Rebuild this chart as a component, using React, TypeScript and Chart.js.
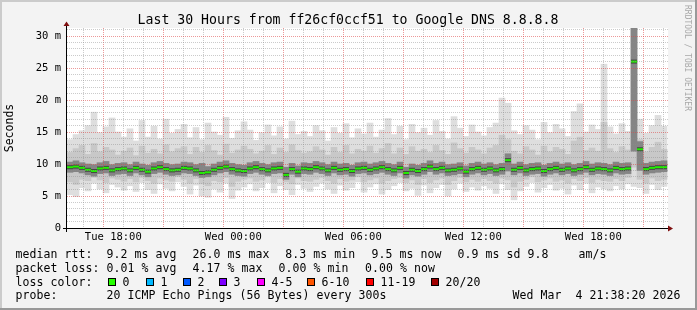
import React, { useEffect, useRef } from 'react';
import { Chart, registerables } from 'chart.js';

Chart.register(...registerables);

const MONO = '"DejaVu Sans Mono", monospace';

// time axis in hours since Tue 00:00
const START_HOUR = 15.685;
const STEP_HOURS = 0.3;
const END_HOUR = 45.735;
const Y_MAX = 31.25;

const xTickHours = [18, 24, 30, 36, 42];
const xTickLabels = ['Tue 18:00', 'Wed 00:00', 'Wed 06:00', 'Wed 12:00', 'Wed 18:00'];
const yTickValues = [0, 5, 10, 15, 20, 25, 30];
const yTickLabels = ['0', '5 m', '10 m', '15 m', '20 m', '25 m', '30 m'];

// rtt in ms, one value per 18 minute bucket
const maxRtt = [
  13.8, 14.6, 15.2, 16.0, 18.1, 14.9, 15.8, 17.2, 15.0, 14.2,
  15.5, 13.6, 16.8, 14.2, 15.9, 13.9, 17.0, 14.8, 15.4, 16.2,
  14.1, 15.7, 13.8, 16.4, 15.0, 14.5, 17.3, 14.0, 15.2, 16.6,
  15.3, 13.7, 14.9, 16.1, 14.4, 15.8, 13.9, 16.7, 14.6, 15.1,
  14.3, 16.0, 15.2, 13.6, 15.7, 14.8, 16.3, 14.1, 15.5, 14.7,
  16.4, 14.2, 15.3, 17.1, 14.6, 15.9, 13.8, 16.2, 14.9, 15.6,
  14.5, 16.8, 15.1, 13.9, 17.4, 15.6, 14.3, 16.1, 15.0, 14.4,
  15.7, 16.4, 20.3, 19.5, 15.2, 14.6, 16.0, 15.3, 13.8, 16.5,
  14.9, 16.2, 15.5, 14.3, 18.2, 19.4, 15.0, 16.1, 15.4, 25.6,
  15.8, 14.7, 16.3, 15.1, 32.0, 17.0, 14.8, 16.0, 17.6, 15.9,
];
const minRtt = [
  5.2, 4.9, 6.3, 5.8, 7.0, 6.1, 5.5, 6.8, 6.4, 5.9,
  6.6, 5.7, 7.1, 6.0, 5.4, 6.9, 6.2, 5.8, 7.2, 6.5,
  5.3, 6.7, 5.0, 4.8, 6.1, 5.6, 7.0, 4.6, 5.9, 6.4,
  6.9, 5.8, 6.3, 7.1, 5.5, 6.6, 6.0, 5.2, 6.8, 6.2,
  5.7, 6.5, 7.0, 6.1, 5.4, 6.7, 5.9, 6.3, 7.2, 5.6,
  6.4, 6.9, 5.3, 6.0, 6.6, 7.1, 5.8, 6.2, 5.1, 6.7,
  5.5, 6.3, 6.8, 5.0, 6.1, 7.0, 5.7, 6.4, 5.9, 6.6,
  6.2, 5.4, 6.9, 6.0, 4.4, 5.8, 6.5, 7.1, 5.6, 6.3,
  6.8, 5.9, 6.2, 5.3, 6.7, 6.0, 7.0, 5.5, 6.4, 6.1,
  5.8, 6.6, 6.1, 6.9, 6.5, 6.3, 5.4, 6.8, 6.0, 6.5,
];
const p90Rtt = [
  11.8, 12.4, 12.9, 11.5, 13.2, 11.9, 12.6, 12.2, 11.4, 12.0,
  12.5, 11.3, 12.8, 11.7, 12.3, 11.6, 13.0, 11.9, 12.4, 12.7,
  11.5, 12.6, 11.8, 12.9, 12.1, 11.4, 13.1, 11.7, 12.2, 12.8,
  12.3, 11.6, 12.0, 12.9, 11.5, 12.5, 11.8, 13.0, 12.1, 11.7,
  11.9, 12.7, 12.2, 11.4, 12.6, 11.8, 12.9, 11.6, 12.3, 12.0,
  12.8, 11.7, 12.4, 13.2, 11.6, 12.5, 11.5, 12.7, 12.0, 12.3,
  11.8, 12.9, 12.1, 11.5, 13.3, 12.4, 11.7, 12.6, 12.2, 11.6,
  12.5, 12.9, 14.5, 13.8, 12.0, 11.6, 12.7, 12.2, 11.4, 12.8,
  11.9, 12.6, 12.3, 11.5, 13.6, 14.2, 12.1, 12.5, 12.0, 16.5,
  12.4, 11.8, 12.7, 12.2, 31.5, 13.8, 11.9, 12.6, 13.4, 12.3,
];
const p10Rtt = [
  7.2, 6.8, 7.6, 7.4, 7.9, 7.5, 7.1, 7.8, 7.6, 7.3,
  7.7, 7.2, 7.9, 7.4, 7.0, 7.8, 7.5, 7.3, 8.0, 7.6,
  7.0, 7.7, 6.9, 6.6, 7.4, 7.2, 7.9, 6.5, 7.3, 7.6,
  7.8, 7.3, 7.5, 8.0, 7.1, 7.7, 7.2, 6.9, 7.8, 7.4,
  7.3, 7.6, 7.9, 7.4, 7.0, 7.7, 7.3, 7.5, 8.0, 7.2,
  7.5, 7.8, 7.0, 7.4, 7.7, 7.9, 7.1, 7.5, 6.8, 7.7,
  7.1, 7.5, 7.8, 6.8, 7.4, 7.9, 7.2, 7.6, 7.3, 7.7,
  7.4, 7.0, 7.8, 7.5, 6.4, 7.3, 7.6, 8.0, 7.2, 7.5,
  7.8, 7.3, 7.5, 7.0, 7.7, 7.4, 7.9, 7.1, 7.6, 7.4,
  7.3, 7.7, 7.4, 7.9, 9.5, 7.6, 7.0, 7.8, 7.4, 7.6,
];
const p70Rtt = [
  10.3, 10.5, 10.2, 10.0, 9.9, 10.2, 10.4, 9.9, 10.1, 10.2,
  9.9, 10.3, 10.0, 9.8, 10.2, 10.4, 10.1, 9.9, 10.0, 10.3,
  10.2, 9.9, 10.1, 9.6, 10.0, 10.3, 10.5, 10.1, 9.9, 9.8,
  10.2, 10.4, 10.1, 9.9, 10.2, 10.3, 9.5, 10.1, 9.7, 10.2,
  10.1, 10.4, 10.2, 9.9, 10.3, 10.0, 10.1, 9.8, 10.2, 10.3,
  10.0, 10.2, 10.4, 10.1, 9.9, 10.3, 9.5, 10.0, 9.8, 10.1,
  10.5, 10.1, 10.3, 9.9, 10.0, 10.2, 9.7, 10.1, 10.3, 10.0,
  10.2, 9.9, 10.1, 11.6, 10.0, 10.3, 9.9, 10.1, 10.2, 9.8,
  10.1, 10.3, 10.0, 10.2, 9.9, 10.1, 10.4, 10.0, 10.2, 10.1,
  9.9, 10.3, 10.1, 10.2, 31.5, 13.5, 10.1, 10.3, 10.4, 10.5,
];
const p30Rtt = [
  8.7, 8.8, 8.6, 8.3, 8.1, 8.5, 8.6, 8.2, 8.4, 8.5,
  8.2, 8.6, 8.3, 8.0, 8.5, 8.7, 8.4, 8.2, 8.3, 8.6,
  8.5, 8.2, 7.9, 8.0, 8.3, 8.6, 8.8, 8.4, 8.2, 8.1,
  8.5, 8.7, 8.4, 8.2, 8.5, 8.6, 7.6, 8.4, 8.0, 8.5,
  8.4, 8.7, 8.5, 8.2, 8.6, 8.3, 8.4, 8.1, 8.5, 8.6,
  8.3, 8.5, 8.7, 8.4, 8.2, 8.6, 7.8, 8.3, 8.1, 8.4,
  8.8, 8.4, 8.6, 8.2, 8.3, 8.5, 8.0, 8.4, 8.6, 8.3,
  8.5, 8.2, 8.4, 8.9, 8.3, 8.6, 8.2, 8.4, 8.5, 8.1,
  8.4, 8.6, 8.3, 8.5, 8.2, 8.4, 8.7, 8.3, 8.5, 8.4,
  8.2, 8.6, 8.4, 8.5, 12.0, 9.0, 8.4, 8.6, 8.7, 8.8,
];
const medianRtt = [
  9.5, 9.6, 9.4, 9.1, 8.9, 9.3, 9.4, 9.0, 9.2, 9.3,
  9.0, 9.4, 9.1, 8.8, 9.3, 9.5, 9.2, 9.0, 9.1, 9.4,
  9.3, 9.0, 8.6, 8.7, 9.1, 9.4, 9.6, 9.2, 9.0, 8.9,
  9.3, 9.5, 9.2, 9.0, 9.3, 9.4, 8.3, 9.2, 8.8, 9.3,
  9.2, 9.5, 9.3, 9.0, 9.4, 9.1, 9.2, 8.9, 9.3, 9.4,
  9.1, 9.3, 9.5, 9.2, 9.0, 9.4, 8.6, 9.1, 8.9, 9.2,
  9.6, 9.2, 9.4, 9.0, 9.1, 9.3, 8.8, 9.2, 9.4, 9.1,
  9.3, 9.0, 9.2, 10.6, 9.1, 9.4, 9.0, 9.2, 9.3, 8.9,
  9.2, 9.4, 9.1, 9.3, 9.0, 9.2, 9.5, 9.1, 9.3, 9.2,
  9.0, 9.4, 9.2, 9.3, 26.0, 12.3, 9.2, 9.4, 9.5, 9.5,
];

const bucketHours = medianRtt.map((_, i) => START_HOUR + STEP_HOURS * (i + 0.5));

const lossLabels = ['0', '1', '2', '3', '4-5', '6-10', '11-19', '20/20'];
const lossColors = ['#26ff00', '#00b8ff', '#0059ff', '#7e00ff', '#ff00ff', '#ff5500', '#ff0000', '#a10000'];

const titleText = 'Last 30 Hours from ff26cf0ccf51 to Google DNS 8.8.8.8';
const statRows: [string, number][][] = [
  [['median rtt:', 15.5], ['9.2 ms avg', 106.6], ['26.0 ms max', 192.6], ['8.3 ms min', 285.3], ['9.5 ms now', 371.6], ['0.9 ms sd', 457.6], ['9.8', 527.6], ['am/s', 578.6]],
  [['packet loss:', 15.5], ['0.01 % avg', 106.6], ['4.17 % max', 192.6], ['0.00 % min', 278.6], ['0.00 % now', 365.0]],
  [['loss color:', 15.5]],
  [['probe:', 15.5], ['20 ICMP Echo Pings (56 Bytes) every 300s', 106.6], ['Wed Mar  4 21:38:20 2026', 512.6]],
];
const rowBaselines = [258, 272, 286, 299];
const lossBoxX = [108, 146, 183, 219, 257, 307, 366, 431];

function rangeData(lo: number[], hi: number[]) {
  return bucketHours.map((t, i) => ({ x: t, y: [lo[i], hi[i]] }));
}
function pointData(v: number[]) {
  return bucketHours.map((t, i) => ({ x: t, y: v[i] }));
}

function monoText(ctx: CanvasRenderingContext2D, s: string, x: number, y: number, size: number, pitch: number) {
  ctx.font = `${size}px ${MONO}`;
  const w = ctx.measureText('0').width;
  (ctx as any).letterSpacing = `${pitch - w}px`;
  ctx.fillText(s, x, y);
  (ctx as any).letterSpacing = '0px';
}

const rrdPlugin = {
  id: 'rrdFrame',
  beforeDraw(chart: any) {
    const { ctx, chartArea: a, width, height } = chart;
    ctx.save();
    ctx.fillStyle = '#f3f3f3';
    ctx.fillRect(0, 0, width, height);
    ctx.fillStyle = '#cbcbcb';
    ctx.fillRect(0, 0, width, 2);
    ctx.fillRect(0, 0, 2, height);
    ctx.fillStyle = '#999999';
    ctx.fillRect(0, height - 2, width, 2);
    ctx.fillRect(width - 2, 0, 2, height);
    ctx.fillStyle = '#ffffff';
    ctx.fillRect(a.left, a.top, a.right - a.left, a.bottom - a.top);
    ctx.restore();
  },
  afterDraw(chart: any) {
    const { ctx, chartArea: a } = chart;
    ctx.save();
    // axes
    ctx.strokeStyle = '#000000';
    ctx.lineWidth = 1;
    ctx.beginPath();
    ctx.moveTo(a.left - 4, a.bottom + 0.5);
    ctx.lineTo(a.right + 1, a.bottom + 0.5);
    ctx.moveTo(a.left - 0.5, a.bottom + 4);
    ctx.lineTo(a.left - 0.5, a.top - 2);
    ctx.stroke();
    ctx.fillStyle = '#7f0f0f';
    ctx.beginPath();
    ctx.moveTo(a.left - 3.5, a.top - 2);
    ctx.lineTo(a.left + 2.5, a.top - 2);
    ctx.lineTo(a.left - 0.5, a.top - 6.5);
    ctx.closePath();
    ctx.fill();
    ctx.beginPath();
    ctx.moveTo(a.right, a.bottom - 2.5);
    ctx.lineTo(a.right, a.bottom + 3.5);
    ctx.lineTo(a.right + 5, a.bottom + 0.5);
    ctx.closePath();
    ctx.fill();

    // title
    ctx.fillStyle = '#000000';
    ctx.textAlign = 'center';
    ctx.textBaseline = 'alphabetic';
    ctx.font = `13.2px ${MONO}`;
    ctx.fillText(titleText, 348, 24);

    // y axis title
    ctx.save();
    ctx.translate(10.5, (a.top + a.bottom) / 2);
    ctx.rotate(-Math.PI / 2);
    ctx.textAlign = 'center';
    ctx.textBaseline = 'middle';
    ctx.font = `11.5px ${MONO}`;
    ctx.fillText('Seconds', 0, 0);
    ctx.restore();

    // watermark
    ctx.save();
    ctx.translate(685, 5);
    ctx.rotate(Math.PI / 2);
    ctx.textAlign = 'left';
    ctx.textBaseline = 'alphabetic';
    ctx.fillStyle = '#a8a8a8';
    ctx.font = `8px ${MONO}`;
    ctx.fillText('RRDTOOL / TOBI OETIKER', 0, 0);
    ctx.restore();

    // statistics
    ctx.textAlign = 'left';
    ctx.textBaseline = 'alphabetic';
    ctx.fillStyle = '#000000';
    statRows.forEach((row, r) => {
      row.forEach(([s, x]) => monoText(ctx, s, x, rowBaselines[r], 11.5, 7));
    });
    lossLabels.forEach((lab, i) => {
      const bx = lossBoxX[i];
      ctx.fillStyle = lossColors[i];
      ctx.fillRect(bx, 278, 8, 8);
      ctx.strokeStyle = '#000000';
      ctx.strokeRect(bx + 0.5, 278.5, 7, 7);
      ctx.fillStyle = '#000000';
      monoText(ctx, lab, bx + 14.5, rowBaselines[2], 11.5, 7);
    });
    ctx.restore();
  },
};

export default function App() {
  const ref = useRef<HTMLCanvasElement | null>(null);
  useEffect(() => {
    document.body.style.margin = '0';
    const canvas = ref.current;
    if (!canvas) return;
    const barCommon = {
      type: 'bar' as const,
      grouped: false,
      barPercentage: 1,
      categoryPercentage: 1,
      borderWidth: 0,
      borderSkipped: false,
    };
    const chart = new Chart(canvas, {
      type: 'bar',
      data: {
        datasets: [
          { ...barCommon, label: 'min-max', data: rangeData(minRtt, maxRtt) as any, backgroundColor: '#dedede', order: 5 },
          { ...barCommon, label: 'p10-p90', data: rangeData(p10Rtt, p90Rtt) as any, backgroundColor: '#c8c8c8', order: 4 },
          { ...barCommon, label: 'p30-p70', data: rangeData(p30Rtt, p70Rtt) as any, backgroundColor: '#858585', order: 3 },
          {
            type: 'line' as const, label: 'median smoke', data: pointData(medianRtt) as any, showLine: false,
            pointStyle: 'line', pointRadius: 3, pointBorderWidth: 4, borderWidth: 4,
            borderColor: '#444444', pointBorderColor: '#444444', order: 2,
          },
          {
            type: 'line' as const, label: 'median', data: pointData(medianRtt) as any, showLine: false,
            pointStyle: 'line', pointRadius: 3, pointBorderWidth: 2, borderWidth: 2,
            borderColor: lossColors[0], pointBorderColor: '#22ee00', order: 1,
          },
        ],
      },
      options: {
        responsive: false,
        animation: false,
        devicePixelRatio: 1,
        events: [],
        layout: { padding: { top: 28, right: 29, left: 0, bottom: 0 } },
        plugins: { legend: { display: false }, tooltip: { enabled: false }, title: { display: false } },
        scales: {
          x: {
            type: 'linear',
            min: START_HOUR,
            max: END_HOUR,
            offset: false,
            afterFit: (s: any) => { s.height = 82; },
            ticks: {
              stepSize: 1,
              autoSkip: false,
              includeBounds: false,
              maxRotation: 0,
              minRotation: 0,
              padding: 3,
              color: '#000000',
              font: { family: MONO, size: 10.5 },
              callback: (v: any) => {
                const k = xTickHours.indexOf(Number(v));
                return k >= 0 ? xTickLabels[k] : '';
              },
            },
            grid: {
              drawTicks: false,
              z: 1,
              color: (c: any) => (c.tick && c.tick.value % 3 === 0 ? 'rgba(220,70,70,0.55)' : 'rgba(140,140,140,0.45)'),
            },
            border: { display: false, dash: [1, 1] },
          },
          y: {
            type: 'linear',
            min: 0,
            max: Y_MAX,
            afterFit: (s: any) => { s.width = 67; },
            ticks: {
              stepSize: 1,
              autoSkip: false,
              includeBounds: false,
              padding: 6,
              color: '#000000',
              font: { family: MONO, size: 10.5 },
              callback: (v: any) => {
                const k = yTickValues.indexOf(Number(v));
                return k >= 0 ? yTickLabels[k] : '';
              },
            },
            grid: {
              drawTicks: false,
              z: 1,
              color: (c: any) => {
                const v = c.tick ? c.tick.value : 0;
                if (v === 0) return 'rgba(0,0,0,0)';
                return v % 5 === 0 ? 'rgba(220,70,70,0.55)' : 'rgba(140,140,140,0.45)';
              },
            },
            border: { display: false, dash: [1, 1] },
          },
        },
      },
      plugins: [rrdPlugin],
    } as any);
    return () => chart.destroy();
  }, []);
  return <canvas ref={ref} width={697} height={310} style={{ display: 'block' }} />;
}
